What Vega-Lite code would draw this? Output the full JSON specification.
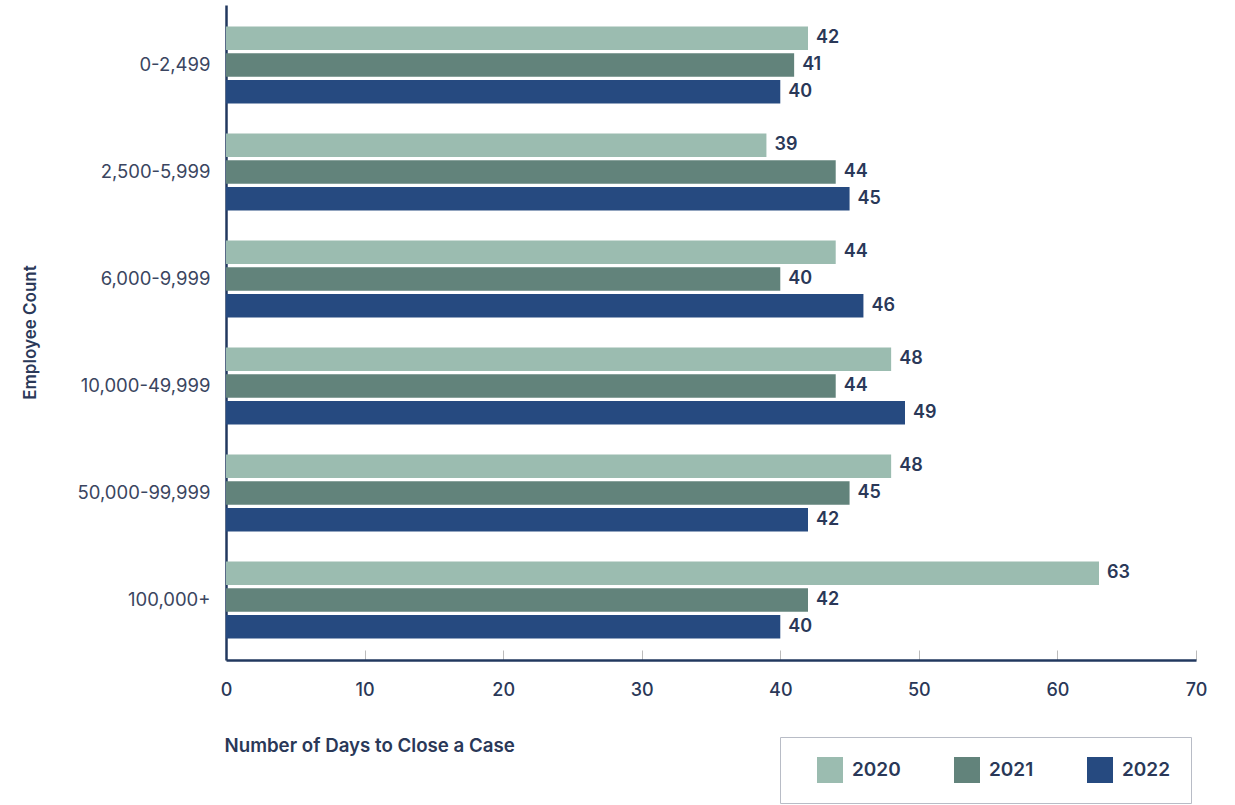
{
  "$schema": "https://vega.github.io/schema/vega-lite/v6.json",
  "width": 970,
  "height": 655,
  "autosize": {"type": "none"},
  "padding": {"left": 226, "top": 5, "right": 39, "bottom": 145},
  "background": "white",
  "config": {
    "view": {"stroke": null},
    "font": "Inter",
    "axis": {"domainColor": "#22385f", "domainWidth": 2.5, "grid": false}
  },
  "data": {
    "values": [
      {"group": "0-2,499", "year": "2020", "days": 42},
      {"group": "0-2,499", "year": "2021", "days": 41},
      {"group": "0-2,499", "year": "2022", "days": 40},
      {"group": "2,500-5,999", "year": "2020", "days": 39},
      {"group": "2,500-5,999", "year": "2021", "days": 44},
      {"group": "2,500-5,999", "year": "2022", "days": 45},
      {"group": "6,000-9,999", "year": "2020", "days": 44},
      {"group": "6,000-9,999", "year": "2021", "days": 40},
      {"group": "6,000-9,999", "year": "2022", "days": 46},
      {"group": "10,000-49,999", "year": "2020", "days": 48},
      {"group": "10,000-49,999", "year": "2021", "days": 44},
      {"group": "10,000-49,999", "year": "2022", "days": 49},
      {"group": "50,000-99,999", "year": "2020", "days": 48},
      {"group": "50,000-99,999", "year": "2021", "days": 45},
      {"group": "50,000-99,999", "year": "2022", "days": 42},
      {"group": "100,000+", "year": "2020", "days": 63},
      {"group": "100,000+", "year": "2021", "days": 42},
      {"group": "100,000+", "year": "2022", "days": 40}
    ]
  },
  "encoding": {
    "y": {
      "field": "group",
      "type": "nominal",
      "sort": null,
      "scale": {"paddingInner": 0.28, "paddingOuter": 0.2},
      "axis": {
        "title": "Employee Count",
        "titleFontSize": 17,
        "titleFontWeight": 600,
        "titleColor": "#2a3858",
        "titleX": -196,
        "titleY": 327,
        "titleAngle": -90,
        "titleAlign": "center",
        "titleBaseline": "middle",
        "ticks": false,
        "labelFontSize": 18.5,
        "labelColor": "#3a4560",
        "labelPadding": 16
      }
    },
    "yOffset": {
      "field": "year",
      "type": "nominal",
      "scale": {"paddingInner": 0.12}
    },
    "x": {
      "field": "days",
      "type": "quantitative",
      "scale": {"domain": [0, 70], "nice": false},
      "axis": {
        "title": "Number of Days to Close a Case",
        "titleFontSize": 18.7,
        "titleFontWeight": 600,
        "titleColor": "#2a3858",
        "titleX": -2,
        "titleY": 85,
        "titleAlign": "left",
        "titleBaseline": "middle",
        "titleAnchor": "start",
        "values": [0, 10, 20, 30, 40, 50, 60, 70],
        "labelFlush": false,
        "tickColor": "#bbbbbb",
        "tickSize": -10,
        "tickWidth": 1,
        "labelFontSize": 18,
        "labelFontWeight": 500,
        "labelColor": "#2a3858",
        "labelPadding": 31
      }
    }
  },
  "layer": [
    {
      "mark": {"type": "bar"},
      "encoding": {
        "color": {
          "field": "year",
          "type": "nominal",
          "scale": {"domain": ["2020", "2021", "2022"], "range": ["#9bbcb0", "#62837b", "#264a80"]},
          "legend": {
            "title": null,
            "orient": "none",
            "direction": "horizontal",
            "legendX": 554,
            "legendY": 732,
            "symbolType": "square",
            "symbolSize": 676,
            "symbolStrokeWidth": 0,
            "symbolOffset": 17,
            "labelFontSize": 19,
            "labelFontWeight": 600,
            "labelColor": "#2a3858",
            "labelOffset": 9,
            "columnPadding": 36,
            "padding": 20,
            "strokeColor": "#b8bcc6",
            "fillColor": "white"
          }
        }
      }
    },
    {
      "mark": {"type": "text", "align": "left", "baseline": "middle", "dx": 8, "fontSize": 18, "fontWeight": 600, "color": "#2a3858"},
      "encoding": {"text": {"field": "days", "type": "quantitative"}}
    }
  ]
}
